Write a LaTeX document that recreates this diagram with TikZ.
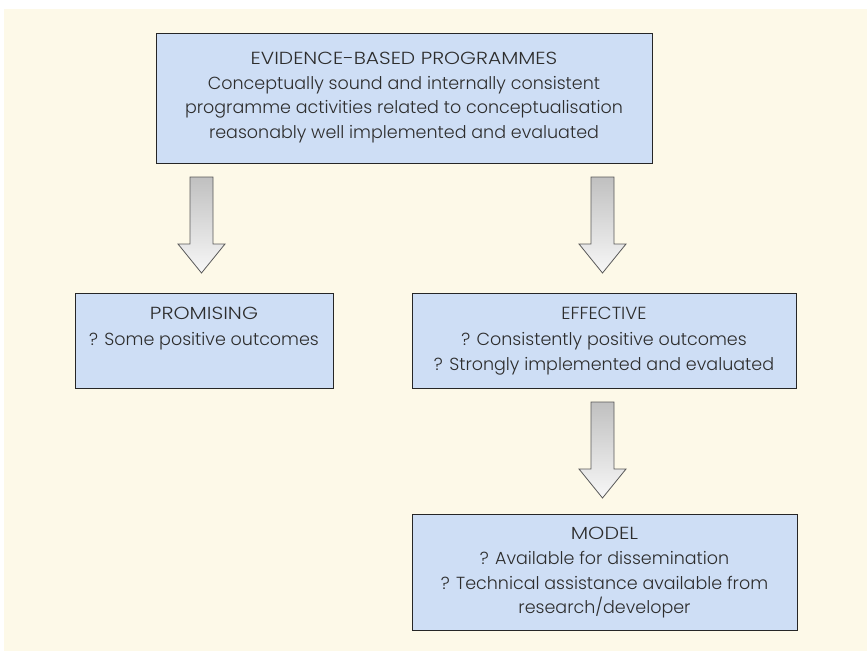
\documentclass[tikz,border=0pt]{standalone}
\usepackage{fontspec}
\setmainfont{Poppins}[UprightFont=* Light]
\usetikzlibrary{calc}
\definecolor{cream}{RGB}{253,249,232}
\definecolor{boxblue}{RGB}{206,222,245}
\definecolor{arrowgray}{RGB}{192,192,192}
\definecolor{txtgray}{RGB}{45,45,45}
\newcommand\blockarr[3]{%
  \coordinate (#3) at (#1,#2);
  \draw[barrow] ($(#3)+(-11.5,0)$) -- ($(#3)+(11.5,0)$) -- ($(#3)+(11.5,67)$)
    -- ($(#3)+(23.5,67)$) -- ($(#3)+(0,96)$) -- ($(#3)+(-23.5,67)$)
    -- ($(#3)+(-11.5,67)$) -- cycle;}
\newcommand\wide[2]{{\addfontfeature{FakeStretch=#1}#2}}
\begin{document}
\begin{tikzpicture}[x=1pt,y=-1pt,
  box/.style={draw=black!85, line width=1pt, fill=boxblue, inner sep=0pt},
  txt/.style={align=center, inner sep=0pt, anchor=north, text=txtgray,
    font=\fontsize{17.5}{24.5}\selectfont},
  barrow/.style={draw=black!65, line width=0.8pt, top color=arrowgray, bottom color=white!97!black}]
\useasboundingbox (0,0) rectangle (867,651);
\fill[cream] (4,9) rectangle (867,651);

\node[box, minimum width=496pt, minimum height=130pt] (topbox) at (404,98) {};
\node[txt] (toptxt) at (404,52.3) {\wide{1.16}{EVIDENCE-BASED PROGRAMMES}\\Conceptually sound and internally consistent\\programme activities related to conceptualisation\\reasonably well implemented and evaluated};

\node[box, minimum width=258pt, minimum height=95pt] (prom) at (204,340.5) {};
\node[txt] (promtxt) at (204,306.7) {\wide{1.17}{PROMISING}\\[2pt]? Some positive outcomes};

\node[box, minimum width=384pt, minimum height=95pt] (eff) at (604,340.5) {};
\node[txt] (efftxt) at (604,306.7) {\wide{1.04}{EFFECTIVE}\\[2pt]? Consistently positive outcomes\\? Strongly implemented and evaluated};

\node[box, minimum width=385pt, minimum height=116pt] (model) at (604.5,572) {};
\node[txt] (modeltxt) at (604.5,526.7) {\wide{1.18}{MODEL}\\[1pt]? Available for dissemination\\? Technical assistance available from\\research/developer};

\blockarr{201.5}{177}{arrA}
\blockarr{602.5}{177}{arrB}
\blockarr{602.5}{402}{arrC}
\end{tikzpicture}
\end{document}
